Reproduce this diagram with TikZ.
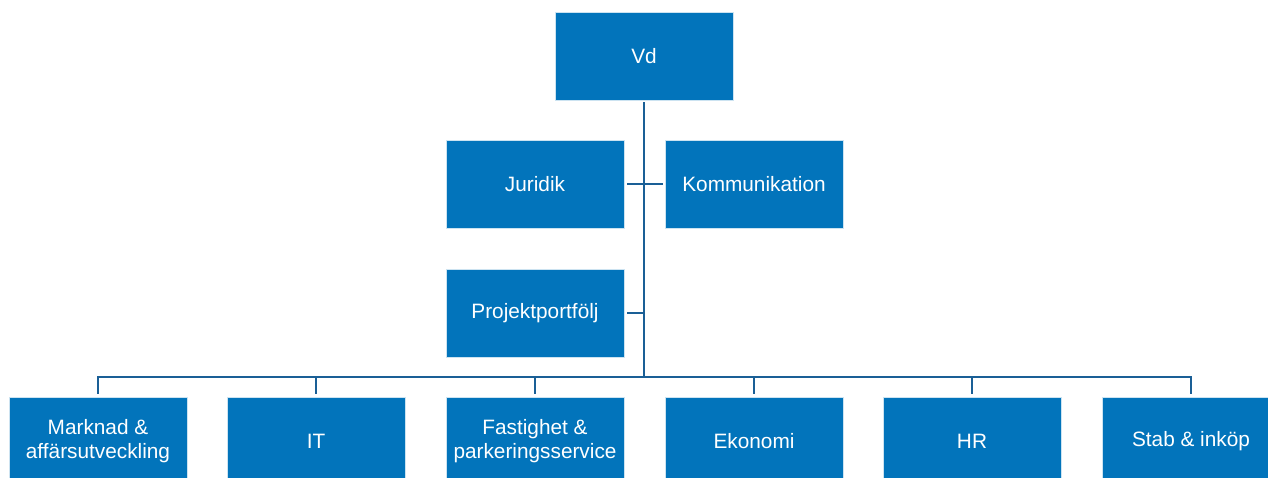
\documentclass[tikz,border=0pt]{standalone}
\usepackage{fontspec}
\setmainfont{Liberation Sans}
\definecolor{boxblue}{HTML}{0274BB}
\definecolor{lineblue}{HTML}{1A5F96}
\begin{document}
\begin{tikzpicture}[x=1pt,y=-1pt,
  box/.style={fill=boxblue, draw=white!80!boxblue, line width=0.8pt, minimum width=178pt, minimum height=88pt, inner sep=0pt, text=white, font=\fontsize{20.8}{24}\selectfont, align=center},
  conn/.style={draw=lineblue, line width=2pt}]
\useasboundingbox (0,0) rectangle (1268,478);
\begin{scope}
\clip (0,0) rectangle (1268,478);
\node[box] (vd) at (644,56) {Vd};
\node[box] (jur) at (535,184) {Juridik};
\node[box] (kom) at (754,184) {Kommunikation};
\node[box] (proj) at (535,313) {Projektportfölj};
\node[box] (mark) at (98,441) {Marknad \&\\affärsutveckling};
\node[box] (it) at (316,441) {IT};
\node[box] (fast) at (535,441) {Fastighet \&\\parkeringsservice};
\node[box] (eko) at (754,441) {Ekonomi};
\node[box] (hr) at (972,441) {HR};
\node[box] (stab) at (1191,441) {Stab \& inköp};
\coordinate (bus) at (644,377);
\draw[conn] ([yshift=-2pt]vd.south) -- (bus);
\draw[conn] ([xshift=3pt]jur.east) -- ([xshift=-2pt]kom.west);
\draw[conn] ([xshift=3pt]proj.east) -- (proj.east -| vd.south);
\draw[conn] ([yshift=3pt]mark.north) |- (stab.north |- bus) -- ([yshift=3pt]stab.north);
\foreach \n in {it,fast,eko,hr}{
  \draw[conn] ([yshift=3pt]\n.north) -- (\n.north |- bus);
}
\end{scope}
\end{tikzpicture}
\end{document}
